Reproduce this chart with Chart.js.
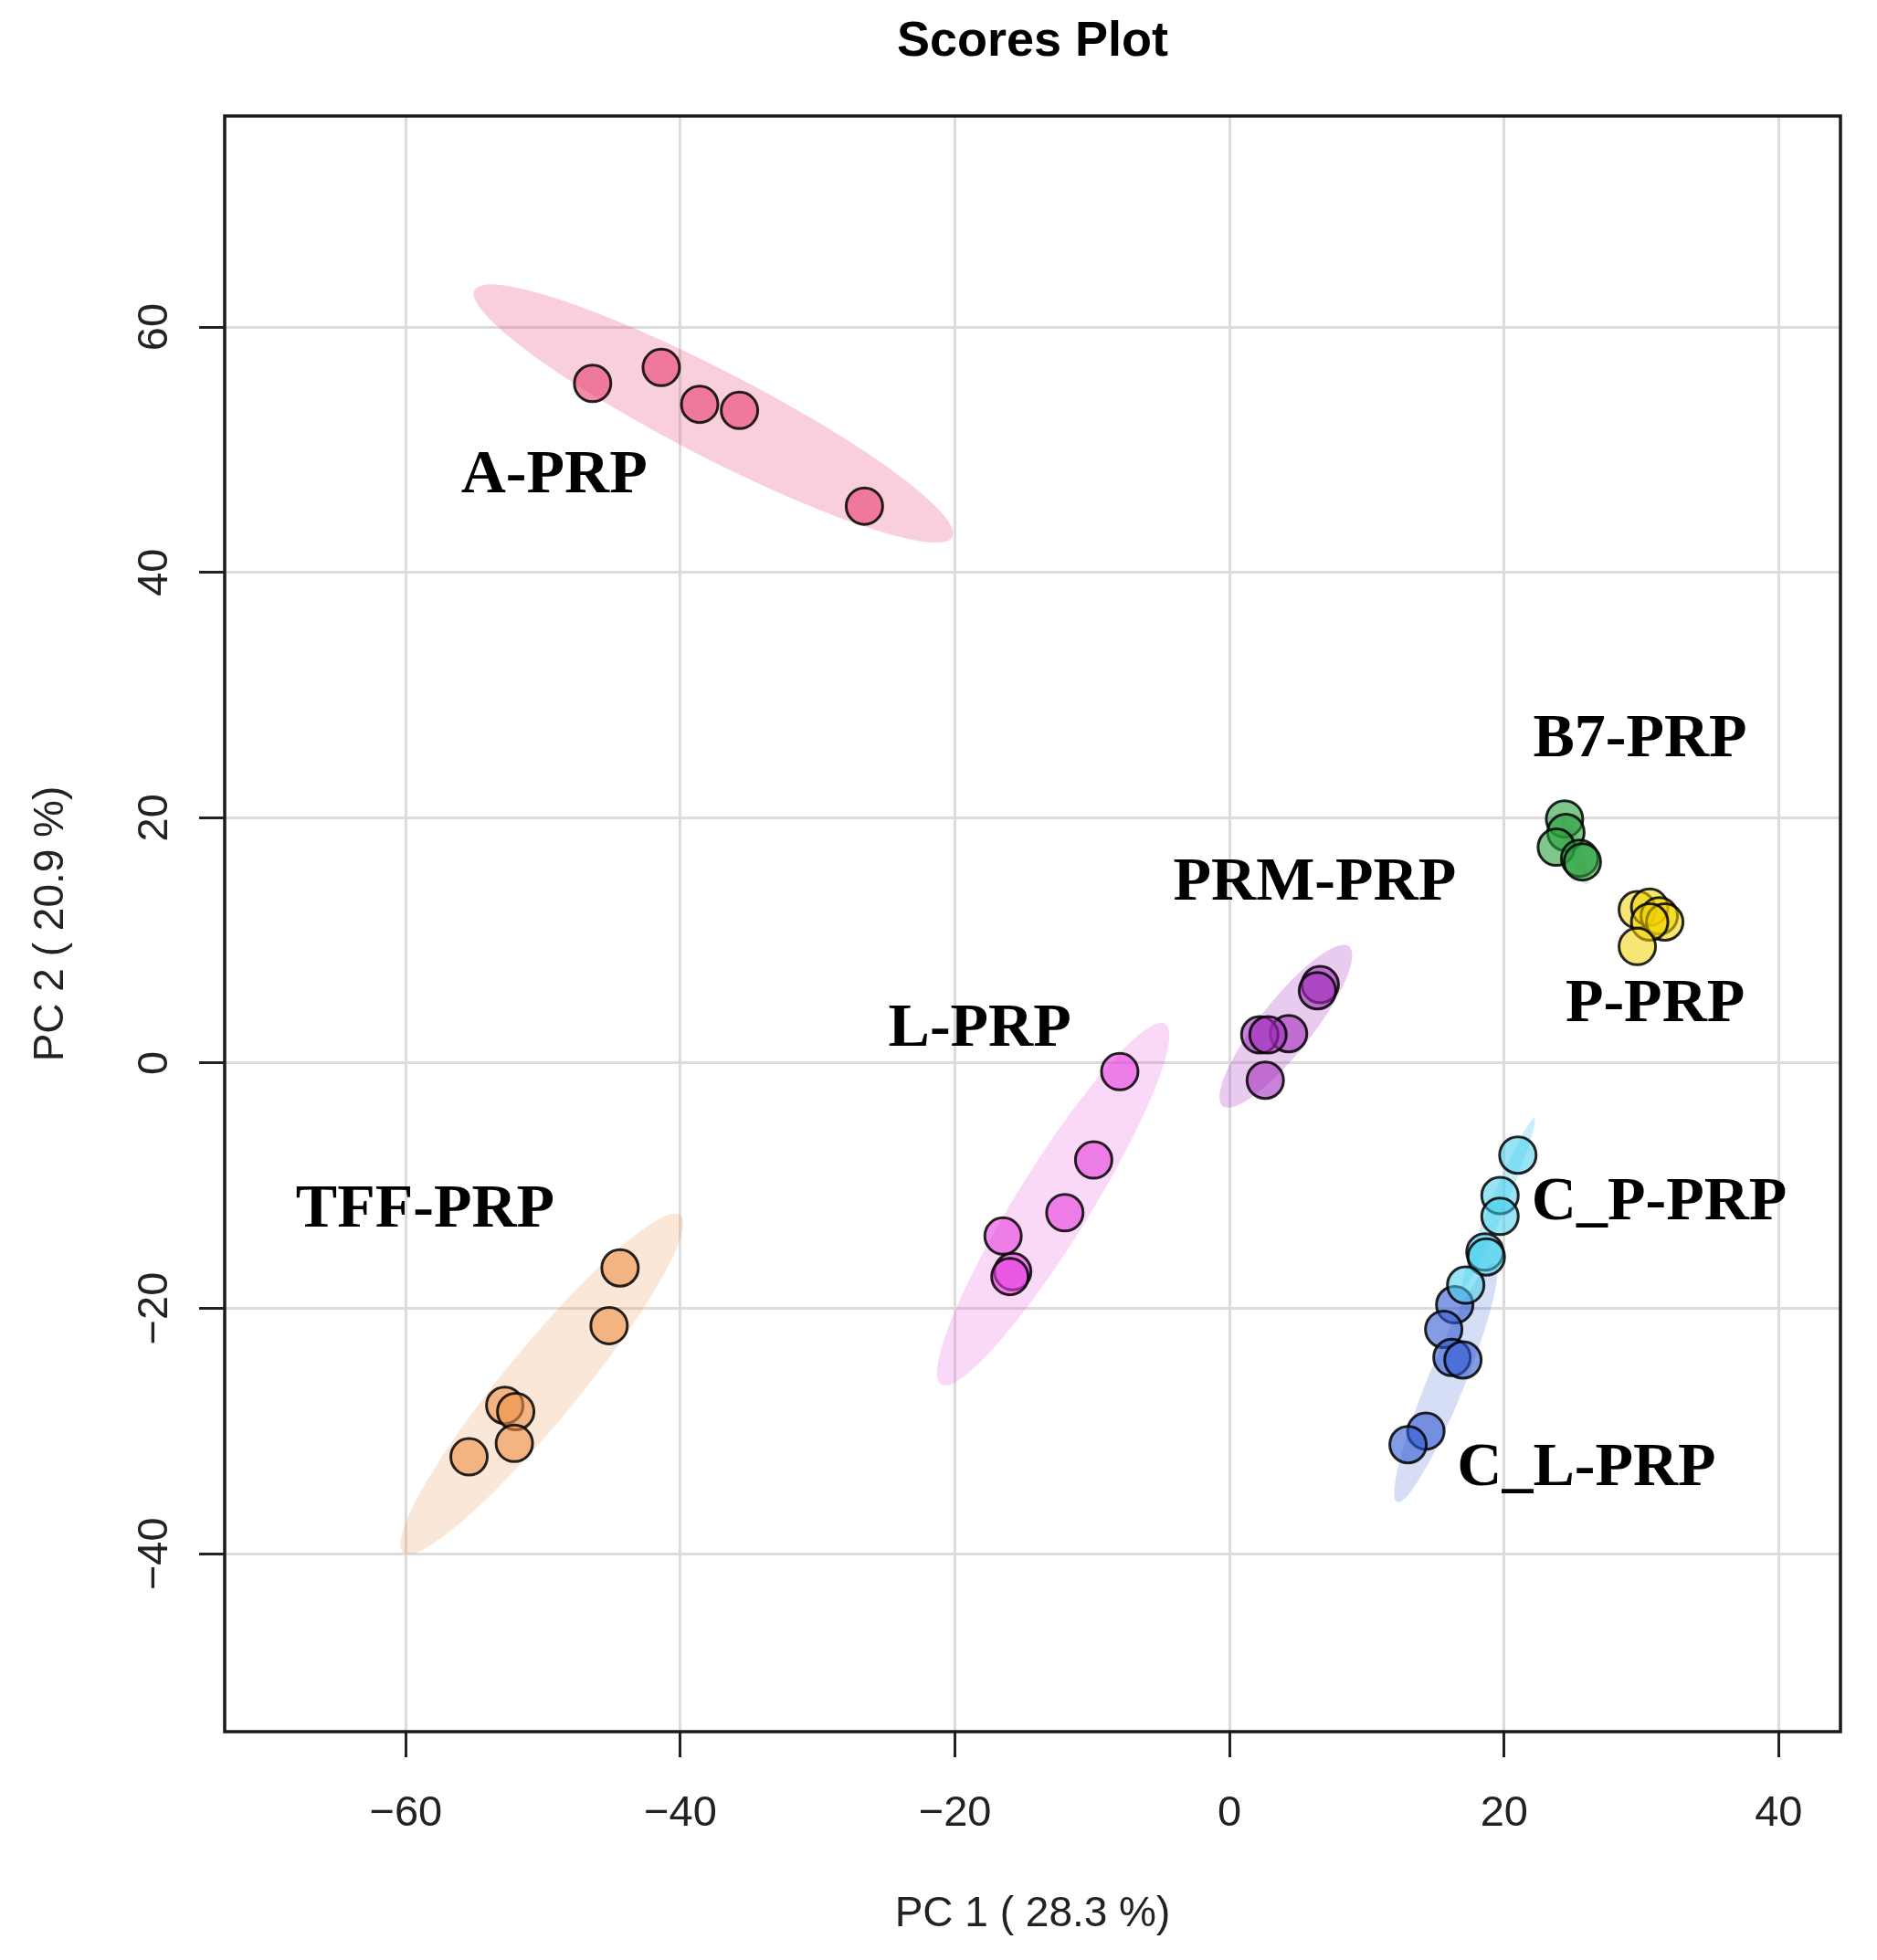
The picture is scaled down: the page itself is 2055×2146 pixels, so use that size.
<!DOCTYPE html>
<html>
<head>
<meta charset="utf-8">
<title>Scores Plot</title>
<script src="https://cdn.jsdelivr.net/npm/chart.js@4.4.1/dist/chart.umd.min.js"></script>
<style>
  html, body { margin: 0; padding: 0; background: #fff; }
  #wrap { width: 2055px; height: 2146px; }
</style>
</head>
<body>
<div id="wrap"><canvas id="scoresChart" width="2055" height="2146"></canvas></div>
<script>
// group names - same order as the score arrays below
const groups = ['A-PRP', 'TFF-PRP', 'L-PRP', 'PRM-PRP', 'B7-PRP', 'P-PRP', 'C_P-PRP', 'C_L-PRP'];

// PC1 / PC2 scores
const aPrpX   = [-46.4, -41.4, -38.6, -35.7, -26.6];
const aPrpY   = [55.4, 56.7, 53.7, 53.2, 45.4];
const tffPrpX = [-44.4, -45.2, -52.8, -52.0, -52.1, -55.4];
const tffPrpY = [-16.7, -21.4, -27.9, -28.4, -31.0, -32.1];
const lPrpX   = [-8.0, -9.9, -12.0, -16.5, -15.8, -16.0];
const lPrpY   = [-0.7, -7.9, -12.2, -14.1, -17.0, -17.4];
const prmPrpX = [6.6, 6.4, 4.3, 2.2, 2.8, 2.6];
const prmPrpY = [6.4, 5.9, 2.4, 2.3, 2.3, -1.4];
const b7PrpX  = [24.4, 24.5, 23.8, 25.5, 25.7];
const b7PrpY  = [19.9, 18.8, 17.6, 16.7, 16.4];
const pPrpX   = [29.7, 30.6, 31.3, 31.7, 30.6, 29.7];
const pPrpY   = [12.5, 12.7, 12.0, 11.5, 11.5, 9.5];
const cpPrpX  = [21.0, 19.7, 19.7, 18.6, 18.7, 17.2];
const cpPrpY  = [-7.5, -10.8, -12.5, -15.4, -15.8, -18.1];
const clPrpX  = [16.4, 15.6, 16.2, 17.0, 14.3, 13.0];
const clPrpY  = [-19.7, -21.7, -24.0, -24.2, -30.0, -31.1];

// confidence ellipses: two ends of the long axis + one end of the short axis (data units)
// P-PRP has none visible
const ellipseEnds = [
  [[-55.0, 63.0], [-20.2, 42.9], [-36.2, 56.1]],
  [[-60.2, -39.9], [-40.0, -12.4], [-47.9, -27.9]],
  [[-21.0, -26.2], [-4.7, 3.2], [-10.6, -13.1]],
  [[-0.5, -3.5], [8.7, 9.5], [5.4, 1.4]],
  [[24.3, 20.0], [26.0, 14.6], [25.7, 17.5]],
  null,
  [[17.0, -18.3], [22.2, -4.5], [20.1, -11.7]],
  [[12.2, -35.8], [19.3, -16.3], [17.0, -26.6]]
];

// where the group names sit (data units, centre of text)
const labelX = [-49.2, -58.6, -18.2, 6.2, 29.9, 31.0, 31.3, 26.0];
const labelY = [47.8, -12.0, 2.7, 14.6, 26.3, 4.7, -11.4, -33.1];

// axes
const xTicks = [-60, -40, -20, 0, 20, 40];
const xTickLabels = ['\u221260', '\u221240', '\u221220', '0', '20', '40'];
const yTicks = [-40, -20, 0, 20, 40, 60];
const yTickLabels = ['\u221240', '\u221220', '0', '20', '40', '60'];
const xTitle = 'PC 1 ( 28.3 %)';
const yTitle = 'PC 2 ( 20.9 %)';
const chartTitle = 'Scores Plot';

const xs = [aPrpX, tffPrpX, lPrpX, prmPrpX, b7PrpX, pPrpX, cpPrpX, clPrpX];
const ys = [aPrpY, tffPrpY, lPrpY, prmPrpY, b7PrpY, pPrpY, cpPrpY, clPrpY];

// colours
const pointColors = [
  'rgba(230,63,110,0.6)', 'rgba(238,147,72,0.6)', 'rgba(230,63,222,0.6)', 'rgba(163,47,188,0.6)',
  'rgba(40,160,60,0.6)', 'rgba(240,210,0,0.55)', 'rgba(70,205,235,0.55)', 'rgba(50,90,210,0.6)'
];
const ellipseColors = [
  'rgba(230,63,110,0.25)', 'rgba(238,147,72,0.22)', 'rgba(230,63,222,0.2)', 'rgba(163,47,188,0.25)',
  'rgba(40,160,60,0.2)', 'rgba(240,210,0,0.2)', 'rgba(70,205,235,0.3)', 'rgba(50,90,210,0.2)'
];

const sansFont = "'Liberation Sans', Arial, sans-serif";
const serifFont = "'Liberation Serif', 'Times New Roman', serif";

let datasets = groups.map(function (name, i) {
  return {
    label: name,
    data: xs[i].map(function (x, j) { return { x: x, y: ys[i][j] }; }),
    backgroundColor: pointColors[i],
    borderColor: 'rgba(0,0,0,0.85)',
    borderWidth: 3,
    pointRadius: 20,
    pointHoverRadius: 20
  };
});

// ellipses under the points, frame + texts on top
const extrasPlugin = {
  id: 'extras',
  beforeDatasetsDraw(chart) {
    const ctx = chart.ctx, xs_ = chart.scales.x, ys_ = chart.scales.y, a = chart.chartArea;
    ctx.save();
    ctx.beginPath();
    ctx.rect(a.left, a.top, a.right - a.left, a.bottom - a.top);
    ctx.clip();
    ellipseEnds.forEach(function (e, i) {
      if (!e) return;
      let p1 = [xs_.getPixelForValue(e[0][0]), ys_.getPixelForValue(e[0][1])];
      let p2 = [xs_.getPixelForValue(e[1][0]), ys_.getPixelForValue(e[1][1])];
      let p3 = [xs_.getPixelForValue(e[2][0]), ys_.getPixelForValue(e[2][1])];
      let cx = (p1[0] + p2[0]) / 2, cy = (p1[1] + p2[1]) / 2;
      let dx = p2[0] - p1[0], dy = p2[1] - p1[1];
      let len = Math.hypot(dx, dy);
      // distance of the short-axis end from the long axis
      let minor = Math.abs((p3[0] - cx) * dy - (p3[1] - cy) * dx) / len;
      ctx.beginPath();
      ctx.ellipse(cx, cy, len / 2, minor, Math.atan2(dy, dx), 0, Math.PI * 2);
      ctx.fillStyle = ellipseColors[i];
      ctx.fill();
    });
    ctx.restore();
  },
  afterDatasetsDraw(chart) {
    const ctx = chart.ctx, xs_ = chart.scales.x, ys_ = chart.scales.y, a = chart.chartArea;
    ctx.save();
    // box
    ctx.strokeStyle = '#1a1a1a';
    ctx.lineWidth = 3.5;
    ctx.strokeRect(a.left, a.top, a.right - a.left, a.bottom - a.top);

    // group names
    ctx.fillStyle = '#000';
    ctx.font = 'bold 68px ' + serifFont;
    ctx.textAlign = 'center';
    ctx.textBaseline = 'middle';
    groups.forEach(function (name, i) {
      ctx.fillText(name, xs_.getPixelForValue(labelX[i]), ys_.getPixelForValue(labelY[i]));
    });

    // y tick labels, turned like R does
    ctx.fillStyle = '#222';
    ctx.font = '47px ' + sansFont;
    yTicks.forEach(function (v, i) {
      ctx.save();
      ctx.translate(170, ys_.getPixelForValue(v));
      ctx.rotate(-Math.PI / 2);
      ctx.fillText(yTickLabels[i], 0, 0);
      ctx.restore();
    });

    // axis titles
    let midX = (a.left + a.right) / 2, midY = (a.top + a.bottom) / 2;
    ctx.font = '46px ' + sansFont;
    ctx.fillText(xTitle, midX, 2096);
    ctx.save();
    ctx.translate(56, midY);
    ctx.rotate(-Math.PI / 2);
    ctx.fillText(yTitle, 0, 0);
    ctx.restore();

    // main title
    ctx.fillStyle = '#000';
    ctx.font = 'bold 54px ' + sansFont;
    ctx.fillText(chartTitle, midX, 46);
    ctx.restore();
  }
};

const scoresChart = new Chart(document.getElementById('scoresChart'), {
  type: 'scatter',
  data: { datasets: datasets },
  options: {
    responsive: false,
    animation: false,
    devicePixelRatio: 1,
    events: [],
    layout: { padding: { top: 127, right: 40, bottom: 0, left: 0 } },
    plugins: {
      legend: { display: false },
      tooltip: { enabled: false },
      title: { display: false }
    },
    scales: {
      x: {
        type: 'linear',
        position: 'bottom',
        min: -73.2,
        max: 44.5,
        afterBuildTicks: function (s) { s.ticks = xTicks.map(function (v) { return { value: v }; }); },
        afterFit: function (s) { s.height = 250; },
        border: { display: false },
        grid: { color: '#dcdcdc', lineWidth: 3, drawTicks: true, tickLength: 28, tickWidth: 3, tickColor: '#222' },
        ticks: {
          color: '#222',
          font: { family: sansFont, size: 47 },
          padding: 34,
          maxRotation: 0,
          callback: function (v) { return xTickLabels[xTicks.indexOf(v)]; }
        }
      },
      y: {
        type: 'linear',
        position: 'left',
        min: -54.5,
        max: 77.2,
        afterBuildTicks: function (s) { s.ticks = yTicks.map(function (v) { return { value: v }; }); },
        afterFit: function (s) { s.width = 246; },
        border: { display: false },
        grid: { color: '#dcdcdc', lineWidth: 3, drawTicks: true, tickLength: 28, tickWidth: 3, tickColor: '#222' },
        ticks: { display: false }
      }
    }
  },
  plugins: [extrasPlugin]
});
</script>
</body>
</html>
